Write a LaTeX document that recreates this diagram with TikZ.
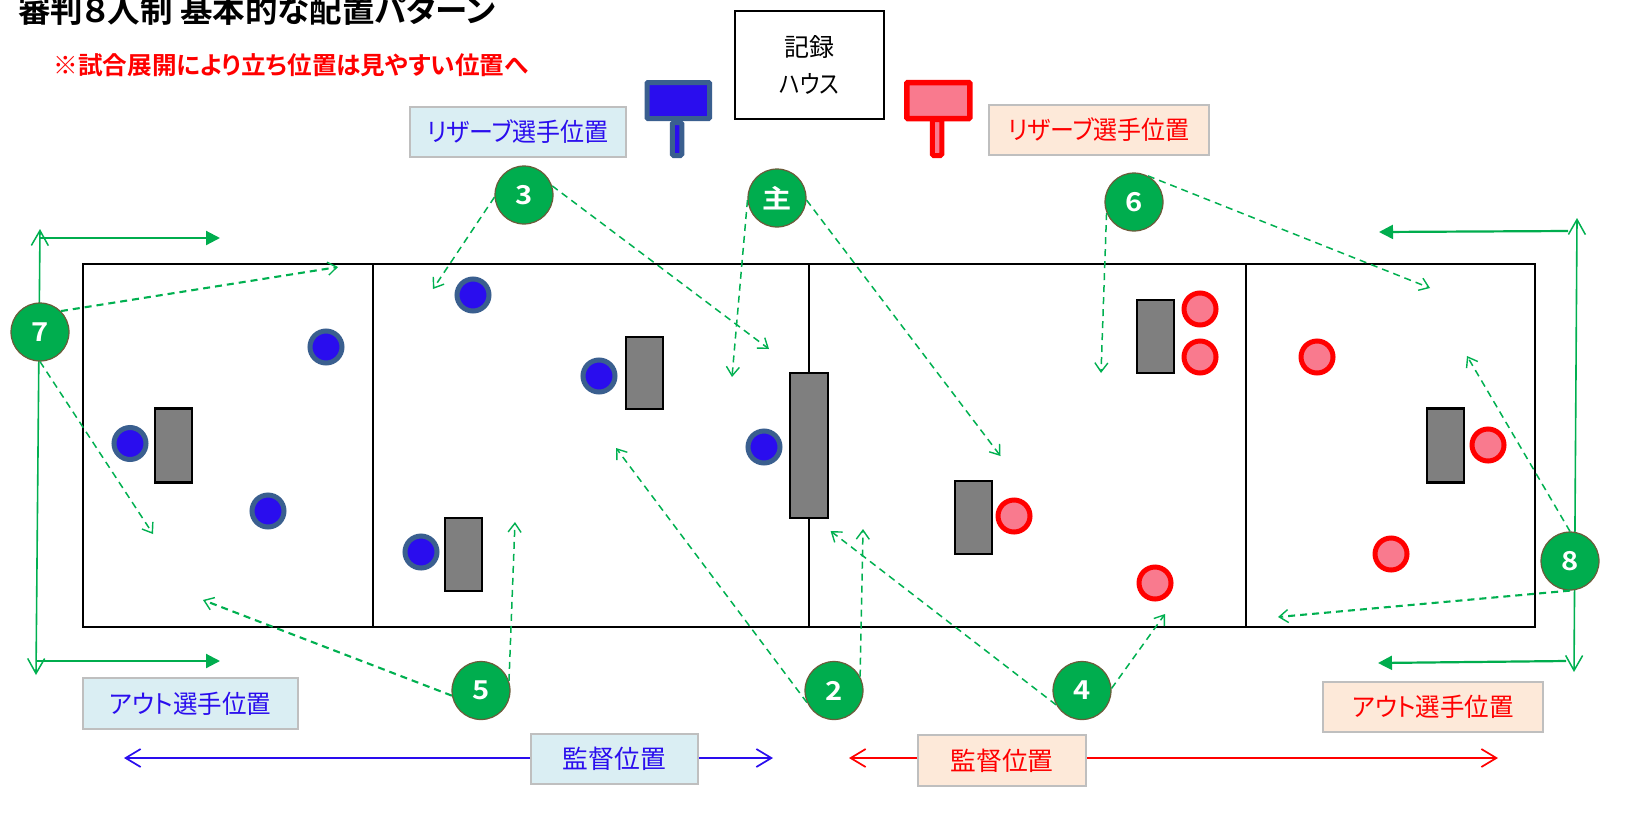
\documentclass[tikz,border=0pt]{standalone}
\usepackage{fontspec}
\usepackage{graphicx}
\usetikzlibrary{arrows.meta}
\setmainfont{Noto Sans CJK JP}
\newfontfamily\jpfont[RawFeature=+palt]{Noto Sans CJK JP}
\newfontfamily\jpbold[RawFeature=+palt,BoldFont={Noto Sans CJK JP Bold}]{Noto Sans CJK JP Bold}
\definecolor{pgreen}{HTML}{00AD4E}
\definecolor{dgreen}{HTML}{00B050}
\definecolor{bblue}{HTML}{2A0DEE}
\definecolor{bring}{HTML}{3A5F8F}
\definecolor{rfill}{HTML}{F97A8E}
\definecolor{bluebox}{HTML}{DAEEF3}
\definecolor{redbox}{HTML}{FDE9D9}
\definecolor{boxline}{HTML}{BFBFBF}
\definecolor{refline}{HTML}{6B5B3A}
\definecolor{bench}{HTML}{7F7F7F}
\newcommand{\squeezed}[2]{\raisebox{-1.2pt}{\scalebox{#1}[1]{#2}}}
\tikzset{
  refcircle/.style={circle,draw=refline,line width=1.2pt,fill=pgreen,minimum size=58pt,inner sep=0pt,text=white,font=\jpbold\fontsize{26}{26}\selectfont},
  bluep/.style={circle,draw=bring,line width=5pt,fill=bblue,minimum size=32pt,inner sep=0pt},
  redp/.style={circle,draw=red,line width=5pt,fill=rfill,minimum size=32pt,inner sep=0pt},
  benchbox/.style={rectangle,draw=black,line width=2.2pt,fill=bench,inner sep=0pt},
  labelblue/.style={rectangle,draw=boxline,line width=2pt,fill=bluebox,text=bblue,inner sep=0pt,font=\jpfont\fontsize{25.5}{25.5}\selectfont},
  labelred/.style={rectangle,draw=boxline,line width=2pt,fill=redbox,text=red,inner sep=0pt,font=\jpfont\fontsize{25.5}{25.5}\selectfont},
  runline/.style={draw=dgreen,line width=1.5pt,dash pattern=on 7pt off 5pt,-{Straight Barb[length=9pt,width=13pt,line width=1.4pt]}},
  runheavy/.style={runline,line width=2.1pt},
  sideline/.style={draw=dgreen,line width=1.6pt,{Straight Barb[length=15pt,width=17pt,line width=1.5pt]}-{Straight Barb[length=15pt,width=17pt,line width=1.5pt]}},
  flagline/.style={draw=pgreen,line width=2.2pt,-{Triangle[length=14pt,width=14pt]}},
  coachblue/.style={draw=bblue,line width=1.8pt,-{Straight Barb[length=15pt,width=18pt,line width=1.7pt]}},
  coachred/.style={draw=red,line width=1.8pt,-{Straight Barb[length=15pt,width=18pt,line width=1.7pt]}},
}
\begin{document}
\begin{tikzpicture}[x=1pt,y=-1pt]
\useasboundingbox (0,0) rectangle (1630,823);
\fill[white] (0,0) rectangle (1630,823);

% court
\coordinate (c1t) at (373,264); \coordinate (c1b) at (373,627);
\coordinate (c2t) at (809,264); \coordinate (c2b) at (809,627);
\coordinate (c3t) at (1246,264); \coordinate (c3b) at (1246,627);
\draw[black,line width=2.5pt] (83,264) rectangle (1535,627);
\draw[black,line width=2pt] (c1t) -- (c1b) (c2t) -- (c2b) (c3t) -- (c3b);

% benches
\node[benchbox,minimum width=37pt,minimum height=74pt] (benchA) at (173.5,445.5) {};
\node[benchbox,minimum width=37pt,minimum height=72pt] (benchB) at (644.5,373) {};
\node[benchbox,minimum width=38.5pt,minimum height=145pt] (benchC) at (809,445.5) {};
\node[benchbox,minimum width=37pt,minimum height=73pt] (benchD) at (463.5,554.5) {};
\node[benchbox,minimum width=37pt,minimum height=73pt] (benchE) at (973.5,517.5) {};
\node[benchbox,minimum width=37pt,minimum height=73pt] (benchF) at (1155.5,336.5) {};
\node[benchbox,minimum width=37pt,minimum height=74pt] (benchG) at (1445.5,445.5) {};

% players
\node[bluep] (b1) at (326,347) {};
\node[bluep] (b2) at (473,295) {};
\node[bluep] (b3) at (599,376) {};
\node[bluep] (b4) at (130,443.5) {};
\node[bluep] (b5) at (268,511) {};
\node[bluep] (b6) at (421,552) {};
\node[bluep] (b7) at (764,447) {};
\node[redp] (r1) at (1200,309) {};
\node[redp] (r2) at (1200,357) {};
\node[redp] (r3) at (1317,357) {};
\node[redp] (r4) at (1488,445) {};
\node[redp] (r5) at (1014,516) {};
\node[redp] (r6) at (1155,583) {};
\node[redp] (r7) at (1391,554) {};

% record house
\node[draw=black,line width=2pt,fill=white,minimum width=149pt,minimum height=108pt,inner sep=0pt,align=center,font=\jpfont\fontsize{25}{37}\selectfont] (house) at (809.5,65) {記録\\\scalebox{.87}[1]{ハウス}};

% signs
\node[draw=bring,line width=5pt,fill=bblue,rounded corners=1.5pt,minimum width=9.5pt,minimum height=33pt,inner sep=0pt] (bstem) at (677,139) {};
\node[draw=bring,line width=5pt,fill=bblue,rounded corners=1pt,minimum width=62.5pt,minimum height=36pt,inner sep=0pt] (bhead) at (678.25,100.5) {};
\node[draw=red,line width=5pt,fill=rfill,rounded corners=1.5pt,minimum width=9.5pt,minimum height=36pt,inner sep=0pt] (rstem) at (937,137.5) {};
\node[draw=red,line width=5.5pt,fill=rfill,rounded corners=1pt,minimum width=63pt,minimum height=36pt,inner sep=0pt] (rhead) at (938.25,100.5) {};

% labels
\node[labelblue,minimum width=216pt,minimum height=50pt] (resB) at (518,132) {\squeezed{.94}{リザーブ選手位置}};
\node[labelred,minimum width=219.5pt,minimum height=50pt] (resR) at (1098.75,130) {\squeezed{.94}{リザーブ選手位置}};
\node[labelblue,minimum width=215pt,minimum height=51pt] (outB) at (190.5,703.5) {\squeezed{.96}{アウト選手位置}};
\node[labelred,minimum width=220pt,minimum height=50pt] (outR) at (1433,707) {\squeezed{.96}{アウト選手位置}};
\node[labelblue,minimum width=167pt,minimum height=50pt] (coachB) at (614.5,759) {\squeezed{1.01}{監督位置}};
\node[labelred,minimum width=168pt,minimum height=51pt] (coachR) at (1002,760.5) {\squeezed{1.01}{監督位置}};

% coach arrows
\coordinate (cbl) at (124,758); \coordinate (cbr) at (773,758);
\coordinate (crl) at (849,758); \coordinate (crr) at (1498,758);
\draw[coachblue] (coachB.west |- cbl) -- (cbl);
\draw[coachblue] (coachB.east |- cbr) -- (cbr);
\draw[coachred] (coachR.west |- crl) -- (crl);
\draw[coachred] (coachR.east |- crr) -- (crr);

% side lines
\coordinate (lt) at (40,229); \coordinate (lb) at (36,675);
\coordinate (rt) at (1577,218); \coordinate (rb) at (1574,672);
\draw[sideline] (lt) -- (lb);
\draw[sideline] (rt) -- (rb);
\coordinate (f1a) at (40,238); \coordinate (f1b) at (220,238);
\coordinate (f2a) at (37,661); \coordinate (f2b) at (220,661);
\coordinate (f3a) at (1568,231); \coordinate (f3b) at (1379,232);
\coordinate (f4a) at (1566,661); \coordinate (f4b) at (1378,663);
\draw[flagline] (f1a) -- (f1b);
\draw[flagline] (f2a) -- (f2b);
\draw[flagline] (f3a) -- (f3b);
\draw[flagline] (f4a) -- (f4b);

% referees
\node[refcircle] (n3) at (524,195) {\squeezed{1.12}{3}};
\node[refcircle] (n0) at (777,198) {\squeezed{1.12}{主}};
\node[refcircle] (n6) at (1134,202) {\squeezed{1.12}{6}};
\node[refcircle] (n7) at (40,332) {\squeezed{1.12}{7}};
\node[refcircle] (n5) at (481,690.5) {\squeezed{1.12}{5}};
\node[refcircle] (n2) at (834,690.5) {\squeezed{1.12}{2}};
\node[refcircle] (n4) at (1082,690.5) {\squeezed{1.12}{4}};
\node[refcircle] (n8) at (1570,561) {\squeezed{1.12}{8}};

% run arrows
\coordinate (e3a) at (433,289); \coordinate (e3b) at (769,349);
\coordinate (e0a) at (732,377); \coordinate (e0b) at (1000.5,456);
\coordinate (e6a) at (1101,373); \coordinate (e6b) at (1430,288);
\coordinate (e7a) at (338,267); \coordinate (e7b) at (153,534);
\coordinate (e5a) at (203,600); \coordinate (e5b) at (515,522);
\coordinate (e2a) at (616,448); \coordinate (e2b) at (863,529);
\coordinate (e4a) at (830.6,531); \coordinate (e4b) at (1165,614);
\coordinate (e8a) at (1467,356); \coordinate (e8b) at (1278,617);
\draw[runline] (n3.184) -- (e3a);
\draw[runline] (n3.18) -- (e3b);
\draw[runline] (n0.184) -- (e0a);
\draw[runline] (n0.356) -- (e0b);
\draw[runline] (n6.202) -- (e6a);
\draw[runline] (n6.62) -- (e6b);
\draw[runheavy] (n7.45) -- (e7a);
\draw[runline] (n7.270) -- (e7b);
\draw[runheavy] (n5.190) -- (e5a);
\draw[runline] (n5.19) -- (e5b);
\draw[runline] (n2.204) -- (e2a);
\draw[runline] (n2.28) -- (e2b);
\draw[runline] (n4.209) -- (e4a);
\draw[runline] (n4.4) -- (e4b);
\draw[runline] (n8.90) -- (e8a);
\draw[runheavy] (n8.270) -- (e8b);

% headings
\node[anchor=west,inner sep=0pt,font=\jpbold\fontsize{32.5}{32.5}\selectfont] (title) at (18,10) {審判８人制 基本的な配置パターン};
\node[anchor=west,inner sep=0pt,text=red,font=\jpbold\fontsize{24.6}{25}\selectfont] (note) at (53.5,65.5) {※試合展開により立ち位置は見やすい位置へ};
\end{tikzpicture}
\end{document}
